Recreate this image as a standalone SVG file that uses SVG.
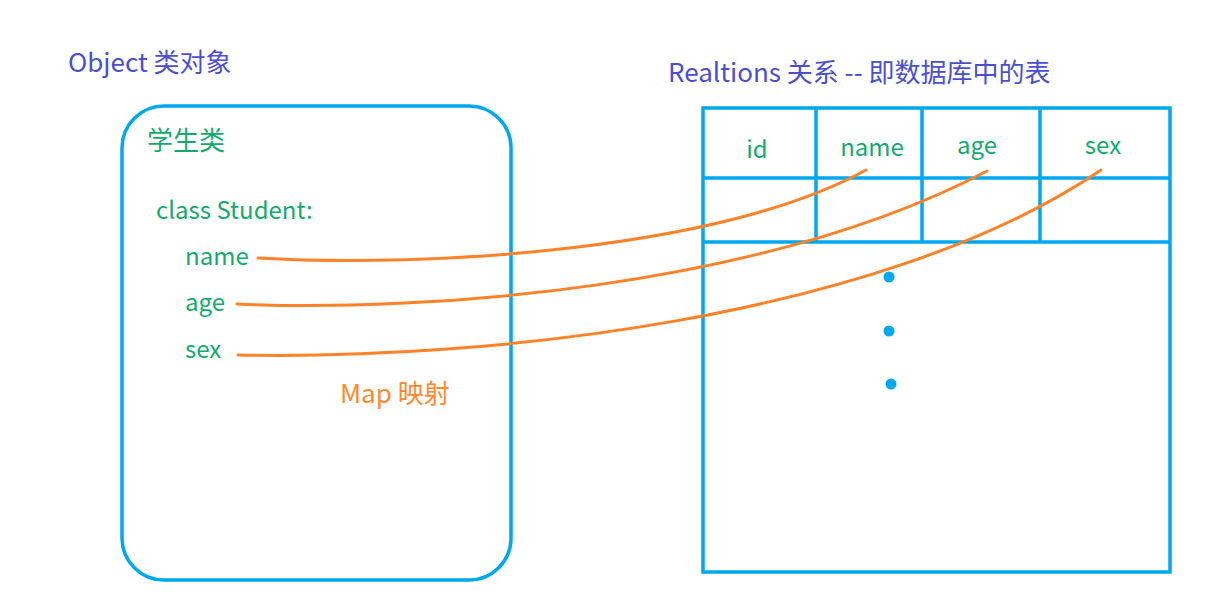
<svg xmlns="http://www.w3.org/2000/svg" width="1231" height="615" viewBox="0 0 1231 615">
<style>
.t{font-family:"Noto Sans CJK SC","Open Sans",sans-serif;}
.title{fill:#4a4fcf;font-size:26px;}
.g{fill:#14aa6e;font-size:24px;}
.h{font-size:26px;}
.o{fill:#ff8a2e;font-size:26px;}
.box{fill:none;stroke:#00a8f0;stroke-width:3.5;}
.map{fill:none;stroke:#ff8228;stroke-width:3;stroke-linecap:round;}
.dot{fill:#00a8f0;}
</style>
<rect width="1231" height="615" fill="#ffffff"/>
<text class="t title" x="68" y="72">Object 类对象</text>
<text class="t title" x="668" y="82">Realtions 关系 -- 即数据库中的表</text>
<g id="class-node">
<rect class="box" x="122" y="106" width="389" height="474" rx="42" ry="42"/>
<text class="t g h" x="147" y="150">学生类</text>
<text class="t g" x="156" y="219">class Student:</text>
<text class="t g" x="185" y="265">name</text>
<text class="t g" x="185" y="311">age</text>
<text class="t g" x="185" y="358">sex</text>
</g>
<g id="table-node">
<rect class="box" x="703" y="108" width="467" height="464"/>
<line class="box" x1="703" y1="178" x2="1170" y2="178"/>
<line class="box" x1="703" y1="242" x2="1170" y2="242"/>
<line class="box" x1="816" y1="108" x2="816" y2="242"/>
<line class="box" x1="922" y1="108" x2="922" y2="242"/>
<line class="box" x1="1040" y1="108" x2="1040" y2="242"/>
<text class="t g" x="757" y="158" text-anchor="middle">id</text>
<text class="t g" x="872" y="156" text-anchor="middle">name</text>
<text class="t g" x="977" y="154" text-anchor="middle">age</text>
<text class="t g" x="1103" y="154" text-anchor="middle">sex</text>
<circle class="dot" cx="889" cy="277" r="5.5"/>
<circle class="dot" cx="889" cy="331" r="5.5"/>
<circle class="dot" cx="891" cy="384" r="5.5"/>
</g>
<g id="connectors">
<path class="map" d="M258,258 C430,268 720,250 866,170"/>
<path class="map" d="M237,304 C420,312 760,290 987,171"/>
<path class="map" d="M238,355 C480,360 880,320 1101,170"/>
</g>
<text class="t o" x="340" y="403">Map 映射</text>
</svg>
